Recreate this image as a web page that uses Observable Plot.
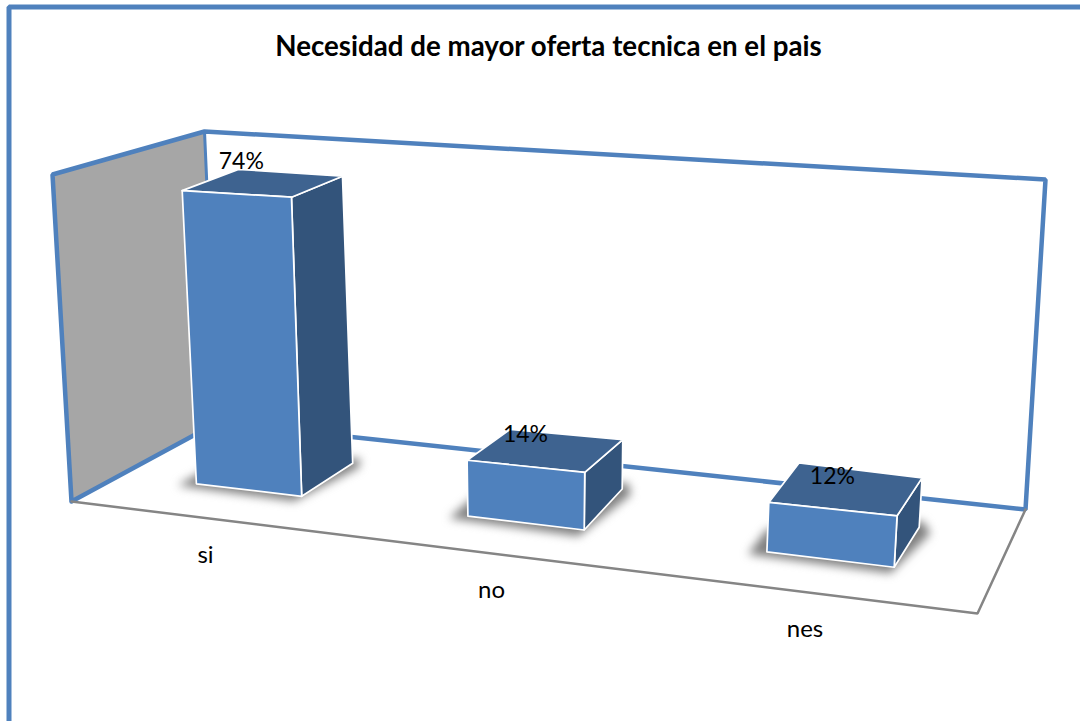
<!DOCTYPE html>
<html lang="es">
<head>
<meta charset="utf-8">
<title>Necesidad de mayor oferta tecnica en el pais</title>
<script src="https://cdn.jsdelivr.net/npm/d3@7"></script>
<script src="https://cdn.jsdelivr.net/npm/@observablehq/plot@0.6"></script>
<style>
html,body{margin:0;padding:0;background:#fff;overflow:hidden}
svg{display:block}
</style>
</head>
<body>
<div id="chart"></div>
<script>
const chartTitle = "Necesidad de mayor oferta tecnica en el pais";
const categories = ["si", "no", "nes"];
const values = [74, 14, 12];
const valueAxisMax = 80;

const W = 1080, H = 721;
const FONT = "Lato, Carlito, Calibri, sans-serif";
const BLUE = "#4f81bd";

/* ---- perspective model of the chart's floor and walls (u along categories, v depth, w = value / axis max) ---- */
const box = {
  p000: [71, 501], p100: [977, 613], p110: [1025, 509], p010: [217, 422],
  p001: [52, 174], p101: [1000, 300], p111: [1045, 179], p011: [204, 131]
};
function frame(u, v, w) {
  const mix = (a, b, t) => a.map((d, k) => d + (b[k] - d) * t);
  const bottom = mix(mix(box.p000, box.p100, u), mix(box.p010, box.p110, u), v);
  const top = mix(mix(box.p001, box.p101, u), mix(box.p011, box.p111, u), v);
  return mix(bottom, top, w);
}
/* ---- perspective model of the bars: c = category position, d = 0 front / 1 back, h = value ---- */
const halfWidth = 0.2;
function barPoint(i, side, d, h) {
  const c = i + side * halfWidth, t = Math.max(0, c - 0.2);
  const lean = c < 1 ? -0.135 * (1 - c) - 0.03 : 0.2 * (c - 1);
  const unit = 4 + 0.05 * c * c + 0.2 * (c - i);
  const back = 0.96 - 0.103 * (2 * i - i * i);
  const shrink = 1 + (back - 1) * d;
  const x0 = 248 + 263.25 * c + 13.75 * c * c;
  const y0 = 489.5 + 31.25 * c + 1.75 * c * c;
  const dx = 53.6 - 13 * c;
  const dy = -33 - 12.5 * t + 4.5 * t * t;
  return [x0 + dx * d + lean * h, y0 + dy * d - unit * h * shrink];
}

const rows = [];
const add = (rowsOut, key, kind, pts) => pts.forEach(p => rowsOut.push({key, kind, x: p[0], y: p[1]}));

/* bars */
const shadows = [];
categories.forEach((cat, i) => {
  const v = values[i];
  add(shadows, cat, "shadow", [
    barPoint(i, -1.25, -0.1, 0), barPoint(i, 1, -0.15, 0),
    barPoint(i, 1.22, 0.9, 0), barPoint(i, 1, 1.15, 0), barPoint(i, -1.25, 0.5, 0)
  ]);
  add(rows, cat + "-side", "side", [barPoint(i, 1, 0, 0), barPoint(i, 1, 1, 0), barPoint(i, 1, 1, v), barPoint(i, 1, 0, v)]);
  add(rows, cat + "-top", "top", [barPoint(i, -1, 0, v), barPoint(i, 1, 0, v), barPoint(i, 1, 1, v), barPoint(i, -1, 1, v)]);
  add(rows, cat + "-front", "front", [barPoint(i, -1, 0, 0), barPoint(i, 1, 0, 0), barPoint(i, 1, 0, v), barPoint(i, -1, 0, v)]);
});

/* walls and floor edges */
const leftWall = [[0,0,0],[0,1,0],[0,1,1],[0,0,1]].map(p => frame(...p));
const wallEdges = [[0,0,0],[0,1,0],[1,1,0],[1,1,1],[0,1,1],[0,0,1],[0,0,0]].map(p => frame(...p));
const backEdge = [[0,1,0],[0,1,1]].map(p => frame(...p));
const floorEdges = [[0,0,0],[1,0,0],[1,1,0]].map(p => frame(...p));
const toXY = pts => pts.map(p => ({x: p[0], y: p[1]}));

/* labels */
const valueLabels = categories.map((cat, i) => {
  const p = barPoint(i, 0, 0, values[i]);
  return {x: p[0] + (i === 0 ? 5 : 0), y: p[1], text: values[i] + "%"};
});
const catLabels = categories.map((cat, i) => {
  const u = (248 + 263.25 * i + 13.75 * i * i - 43 + 9 * i - 71) / 906;
  const p = frame(u, 0, 0);
  return {x: p[0], y: p[1], text: cat};
});

const chart = Plot.plot({
  width: W, height: H,
  margin: 0,
  x: {domain: [0, W], range: [0, W], axis: null},
  y: {domain: [0, H], range: [0, H], axis: null},
  color: {domain: ["front", "side", "top"], range: ["#4f81bd", "#33547b", "#3e6390"]},
  style: {background: "#fff", fontFamily: FONT},
  marks: [
    Plot.line(toXY([[W, 6.5], [8.5, 6.5], [8.5, H]]), {x: "x", y: "y", stroke: BLUE, strokeWidth: 5, strokeLinejoin: "miter"}),
    Plot.line(toXY(leftWall), {x: "x", y: "y", fill: "#a6a6a6", stroke: "none", curve: "linear-closed"}),
    Plot.line(toXY(backEdge), {x: "x", y: "y", stroke: BLUE, strokeWidth: 3}),
    Plot.line(toXY(wallEdges), {x: "x", y: "y", stroke: BLUE, strokeWidth: 4.5, strokeLinejoin: "miter"}),
    Plot.line(toXY(floorEdges), {x: "x", y: "y", stroke: "#858585", strokeWidth: 2.5, strokeLinejoin: "miter"}),
    Plot.line(shadows, {x: "x", y: "y", z: "key", fill: "#808080", stroke: "none", curve: "linear-closed", imageFilter: "blur(5px)"}),
    Plot.line(rows, {x: "x", y: "y", z: "key", fill: "kind", stroke: "#fff", strokeWidth: 1.7, curve: "linear-closed", strokeLinejoin: "round"}),
    Plot.text(valueLabels, {x: "x", y: "y", text: "text", dy: -32, fontSize: 23, fill: "#000"}),
    Plot.text(catLabels, {x: "x", y: "y", text: "text", dy: 37, fontSize: 24, fill: "#000"}),
    Plot.text([{x: 548, y: 47, text: chartTitle}], {x: "x", y: "y", text: "text", fontSize: 27.7, fontWeight: "bold", fill: "#000"})
  ]
});
document.getElementById("chart").appendChild(chart);
</script>
</body>
</html>
